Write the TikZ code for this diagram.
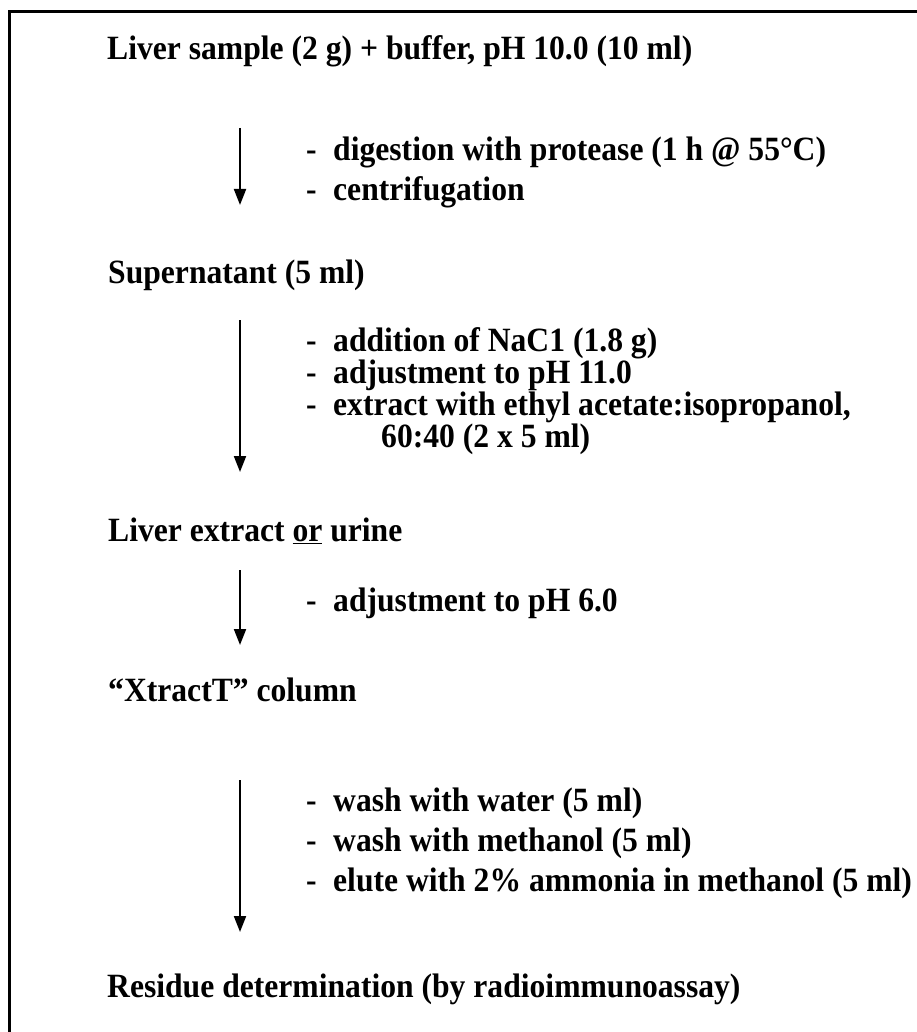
\documentclass[tikz,border=0pt]{standalone}
\usepackage{graphicx}
\usepackage{fontspec}
\setmainfont{Liberation Serif}
\usetikzlibrary{arrows.meta}
\newcommand\sq[1]{\scalebox{0.93}[1]{#1}}
\newcommand\flowitem[1]{\makebox[27pt][l]{\sq{-}}\sq{#1}}
\begin{document}
\begin{tikzpicture}[x=1pt,y=-1pt,
  txt/.style={anchor=base west, inner sep=0pt, font=\fontsize{34}{40}\selectfont\bfseries},
  flow/.style={line width=2pt, -{Triangle[length=16pt,width=12pt]}},
  frame/.style={line width=3pt}]
\useasboundingbox (0,0) rectangle (917,1032);
\draw[frame] (9,1040) -- (9,12) -- (925,12);
% main stages
\node[txt] (s1) at (107,60) {\sq{Liver sample (2 g) + buffer, pH 10.0 (10 ml)}};
\node[txt] (s2) at (108,283) {\sq{Supernatant (5 ml)}};
\node[txt] (s3) at (108,541) {\sq{Liver extract \underline{or} urine}};
\node[txt] (s4) at (108,701) {\sq{“XtractT” column}};
\node[txt] (s5) at (107,997) {\sq{Residue determination (by radioimmunoassay)}};
% step 1
\node[txt] (p1a) at (306,161) {\flowitem{digestion with protease (1 h @ 55°C)}};
\node[txt] (p1b) at (306,201) {\flowitem{centrifugation}};
% step 2
\node[txt] (p2a) at (306,351) {\flowitem{addition of NaC1 (1.8 g)}};
\node[txt] (p2b) at (306,383) {\flowitem{adjustment to pH 11.0}};
\node[txt] (p2c) at (306,415) {\flowitem{extract with ethyl acetate:isopropanol,}};
\node[txt] (p2d) at (381,447) {\sq{60:40 (2 x 5 ml)}};
% step 3
\node[txt] (p3a) at (306,611) {\flowitem{adjustment to pH 6.0}};
% step 4
\node[txt] (p4a) at (306,811) {\flowitem{wash with water (5 ml)}};
\node[txt] (p4b) at (306,851) {\flowitem{wash with methanol (5 ml)}};
\node[txt] (p4c) at (306,891) {\flowitem{elute with 2\% ammonia in methanol (5 ml)}};
% arrows
\coordinate (a1s) at (240,128); \coordinate (a1e) at (240,205);
\coordinate (a2s) at (240,320); \coordinate (a2e) at (240,472);
\coordinate (a3s) at (240,570); \coordinate (a3e) at (240,645);
\coordinate (a4s) at (240,780); \coordinate (a4e) at (240,932);
\draw[flow] (a1s) -- (a1e);
\draw[flow] (a2s) -- (a2e);
\draw[flow] (a3s) -- (a3e);
\draw[flow] (a4s) -- (a4e);
\end{tikzpicture}
\end{document}
